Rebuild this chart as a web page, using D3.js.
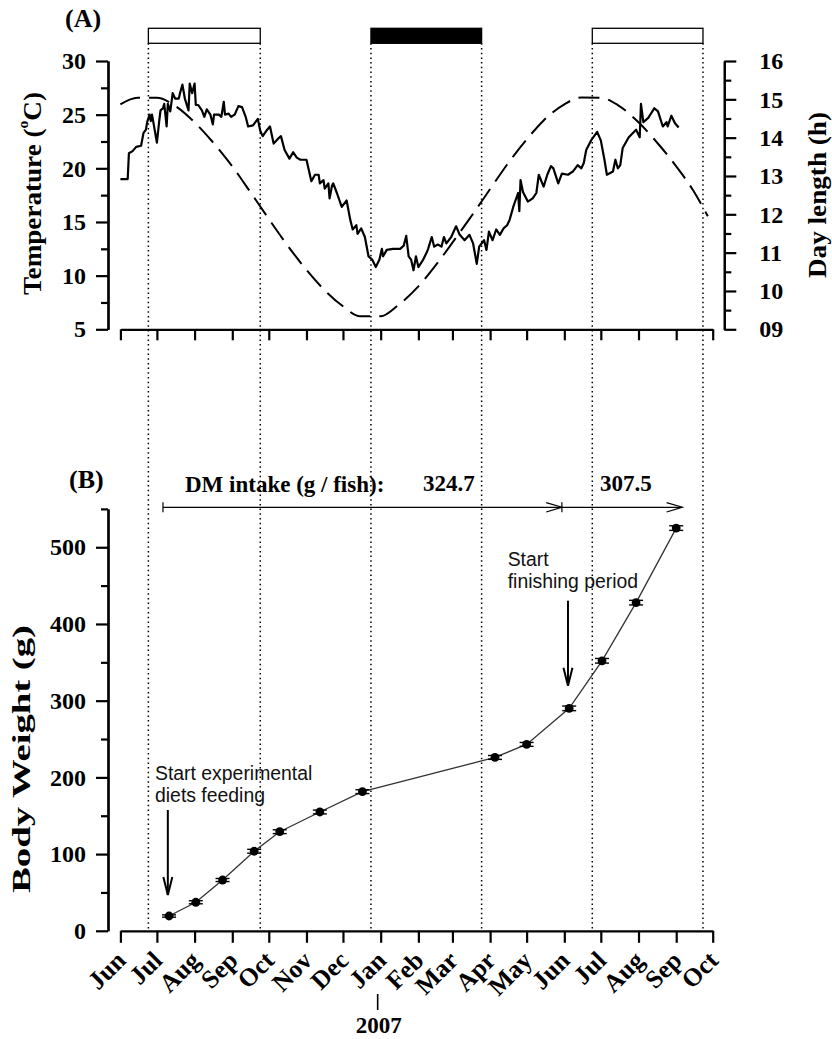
<!DOCTYPE html>
<html><head><meta charset="utf-8">
<script src="https://cdn.jsdelivr.net/npm/d3@7"></script>
<style>body{margin:0;background:#fff}</style>
</head><body>
<svg id="c" width="832" height="1039"></svg>
<script>
// ---------------- DATA ----------------
const tempSeries = [
["2006-06-01",19.0],["2006-06-07",19.0],["2006-06-08",21.4],["2006-06-11",21.6],["2006-06-14",22.0],["2006-06-18",22.1],["2006-06-20",23.3],["2006-06-22",23.6],["2006-06-23",24.3],["2006-06-25",25.0],["2006-06-26",24.4],["2006-06-27",25.0],["2006-07-01",22.4],["2006-07-03",24.5],["2006-07-04",25.4],["2006-07-06",25.6],["2006-07-07",26.0],["2006-07-08",25.0],["2006-07-09",23.9],["2006-07-10",26.0],["2006-07-12",25.3],["2006-07-14",27.0],["2006-07-16",26.5],["2006-07-19",26.5],["2006-07-20",27.0],["2006-07-22",27.8],["2006-07-24",26.5],["2006-07-27",25.4],["2006-07-28",27.9],["2006-07-30",27.0],["2006-08-01",27.9],["2006-08-02",25.9],["2006-08-04",25.9],["2006-08-07",25.4],["2006-08-09",24.8],["2006-08-11",25.5],["2006-08-14",25.0],["2006-08-16",24.1],["2006-08-17",25.0],["2006-08-21",25.0],["2006-08-23",24.8],["2006-08-25",26.2],["2006-08-26",25.0],["2006-08-29",25.1],["2006-08-31",24.8],["2006-09-03",25.0],["2006-09-06",25.8],["2006-09-09",25.7],["2006-09-12",24.8],["2006-09-14",23.9],["2006-09-18",24.0],["2006-09-20",24.3],["2006-09-22",24.6],["2006-09-24",23.5],["2006-09-26",23.0],["2006-09-29",23.5],["2006-10-02",23.9],["2006-10-05",22.3],["2006-10-09",22.8],["2006-10-11",23.0],["2006-10-14",21.7],["2006-10-18",20.9],["2006-10-21",21.5],["2006-10-24",21.0],["2006-10-27",20.8],["2006-11-01",20.8],["2006-11-05",18.8],["2006-11-08",19.4],["2006-11-11",19.4],["2006-11-12",18.6],["2006-11-15",18.9],["2006-11-16",18.1],["2006-11-19",18.6],["2006-11-20",17.2],["2006-11-22",18.4],["2006-11-23",18.6],["2006-11-26",17.7],["2006-11-30",16.4],["2006-12-04",17.0],["2006-12-07",15.2],["2006-12-09",14.3],["2006-12-12",14.7],["2006-12-13",13.9],["2006-12-16",14.4],["2006-12-19",13.6],["2006-12-22",11.8],["2006-12-25",11.5],["2006-12-28",10.8],["2006-12-31",11.5],["2007-01-02",12.5],["2007-01-03",11.8],["2007-01-06",12.4],["2007-01-11",12.5],["2007-01-17",12.5],["2007-01-20",12.8],["2007-01-22",13.7],["2007-01-24",11.8],["2007-01-26",11.5],["2007-01-28",10.5],["2007-01-30",11.8],["2007-02-01",10.8],["2007-02-05",11.5],["2007-02-08",12.2],["2007-02-09",12.5],["2007-02-12",13.6],["2007-02-14",12.7],["2007-02-17",12.9],["2007-02-20",12.7],["2007-02-22",13.6],["2007-02-24",13.0],["2007-02-28",13.6],["2007-03-04",14.6],["2007-03-07",13.8],["2007-03-11",13.3],["2007-03-15",13.8],["2007-03-18",13.0],["2007-03-21",11.1],["2007-03-23",12.7],["2007-03-27",13.3],["2007-03-29",12.4],["2007-03-31",14.1],["2007-04-03",13.3],["2007-04-06",14.3],["2007-04-09",13.8],["2007-04-12",14.4],["2007-04-15",14.7],["2007-04-17",15.2],["2007-04-20",16.4],["2007-04-24",17.7],["2007-04-25",16.0],["2007-04-26",18.9],["2007-04-28",17.8],["2007-05-02",16.9],["2007-05-06",17.2],["2007-05-09",17.7],["2007-05-11",19.4],["2007-05-15",18.3],["2007-05-18",19.4],["2007-05-21",20.2],["2007-05-23",20.0],["2007-05-27",18.6],["2007-05-30",19.5],["2007-06-04",19.4],["2007-06-08",19.7],["2007-06-12",20.3],["2007-06-15",20.0],["2007-06-17",20.5],["2007-06-19",21.7],["2007-06-23",22.6],["2007-06-28",23.4],["2007-07-01",22.6],["2007-07-04",20.8],["2007-07-06",19.4],["2007-07-11",19.7],["2007-07-13",20.8],["2007-07-15",20.0],["2007-07-17",20.3],["2007-07-19",21.9],["2007-07-24",22.9],["2007-07-30",23.6],["2007-08-02",22.9],["2007-08-03",26.0],["2007-08-05",24.3],["2007-08-09",24.7],["2007-08-14",25.6],["2007-08-17",25.3],["2007-08-21",23.9],["2007-08-24",24.3],["2007-08-25",23.9],["2007-08-28",24.9],["2007-08-31",24.2],["2007-09-03",23.8]
];
const dayLenDates = ["2006-06-01","2006-06-15","2006-07-01","2006-07-15","2006-08-01","2006-08-15","2006-09-01","2006-09-15","2006-10-01","2006-10-15","2006-11-01","2006-11-15","2006-12-01","2006-12-15","2007-01-01","2007-01-15","2007-02-01","2007-02-15","2007-03-01","2007-03-15","2007-04-01","2007-04-15","2007-05-01","2007-05-15","2007-06-01","2007-06-15","2007-07-01","2007-07-15","2007-08-01","2007-08-15","2007-09-01","2007-09-15","2007-09-27"];
const dayLenValues = [14.87,15.04,15.04,14.85,14.40,13.92,13.25,12.62,11.88,11.25,10.55,10.05,9.60,9.34,9.34,9.62,10.12,10.66,11.26,11.88,12.66,13.30,13.95,14.45,14.87,15.05,15.04,14.85,14.40,13.92,13.25,12.62,11.95];
const weightDates = ["2006-07-11","2006-08-02","2006-08-24","2006-09-19","2006-10-10","2006-11-12","2006-12-17","2007-04-05","2007-05-01","2007-06-05","2007-07-02","2007-07-30","2007-09-01"];
const weightValues = [19.3,37.2,66.2,103.7,129.2,154.9,181.4,226,243,290,352,427.8,525];
const weightSE = [1.5,2,2,2.5,2.5,2.5,2.5,2.5,2.5,3,3,3,3];
const periodBounds = ["2006-06-24","2006-09-24","2006-12-24","2007-03-25","2007-06-24","2007-09-23"];
const periodFills = ["#fff","#000","#fff"];
const tempTicks = [5,10,15,20,25,30];
const tempMinor = [7.5,12.5,17.5,22.5,27.5];
const dayTicks = [9,10,11,12,13,14,15,16];
const dayMinor = [9.5,10.5,11.5,12.5,13.5,14.5,15.5];
const weightTicks = [0,100,200,300,400,500];
const weightMinor = [50,150,250,350,450,550];
const intakeDates = ["2006-07-06","2007-05-30","2007-09-06"];
const intakeLabels = ["DM intake (g / fish):","324.7","307.5"];
const yearMark = ["2007-01-01","2007"];

// ---------------- CHART ----------------
const svg = d3.select("#c");
const parse = d3.utcParse("%Y-%m-%d");
const SERIF = "'Liberation Serif','Times New Roman',serif";
const SANS = "'Liberation Sans',Arial,Helvetica,sans-serif";

const x = d3.scaleUtc().domain([parse("2006-06-01"), parse("2007-10-01")]).range([120.4, 712.7]);
const yT = d3.scaleLinear().domain([5,30]).range([329.3,61]);
const yD = d3.scaleLinear().domain([9,16]).range([329.3,61]);
const yW = d3.scaleLinear().domain([0,550]).range([930.8,508.9]);

function styleAxis(g, fs){
  g.attr("font-family", SERIF).attr("font-weight","bold").attr("font-size", fs);
  g.selectAll("path,line").attr("stroke","#000").attr("stroke-width",2.2);
  g.selectAll("text").attr("fill","#000");
}

// dotted period lines
svg.append("g").selectAll("line").data(periodBounds).join("line")
  .attr("x1", d=>x(parse(d))).attr("x2", d=>x(parse(d)))
  .attr("y1", 43.3).attr("y2", 930.8)
  .attr("stroke","#000").attr("stroke-width",1.5).attr("stroke-dasharray","1.5,3.2");

// period bars
svg.append("g").selectAll("rect").data(periodFills).join("rect")
  .attr("x",(d,i)=>x(parse(periodBounds[2*i])))
  .attr("width",(d,i)=>x(parse(periodBounds[2*i+1]))-x(parse(periodBounds[2*i])))
  .attr("y",28.3).attr("height",15)
  .attr("fill",d=>d).attr("stroke","#000").attr("stroke-width",1.3);

// ----- Panel A axes
const gTL = svg.append("g").attr("transform","translate(108,0)")
  .call(d3.axisLeft(yT).tickValues(tempTicks).tickSize(12).tickSizeOuter(0).tickPadding(10));
styleAxis(gTL, 24);
const gTLm = svg.append("g").attr("transform","translate(108,0)")
  .call(d3.axisLeft(yT).tickValues(tempMinor).tickSize(7).tickSizeOuter(0).tickFormat(""));
styleAxis(gTLm, 24);
const gTR = svg.append("g").attr("transform","translate(724.3,0)")
  .call(d3.axisRight(yD).tickValues(dayTicks).tickSize(12).tickSizeOuter(0).tickPadding(23).tickFormat(d3.format("02d")));
styleAxis(gTR, 24);
const gTRm = svg.append("g").attr("transform","translate(724.3,0)")
  .call(d3.axisRight(yD).tickValues(dayMinor).tickSize(7).tickSizeOuter(0).tickFormat(""));
styleAxis(gTRm, 24);
const gTX = svg.append("g").attr("transform","translate(0,329.3)")
  .call(d3.axisBottom(x).ticks(d3.utcMonth.every(1)).tickSize(11).tickSizeOuter(0).tickFormat(""));
styleAxis(gTX, 24);

// day length (dashed)
const dayLen = dayLenDates.map((d,i)=>[parse(d), dayLenValues[i]]);
svg.append("path").datum(dayLen)
  .attr("d", d3.line().x(d=>x(d[0])).y(d=>yD(d[1])).curve(d3.curveMonotoneX))
  .attr("fill","none").attr("stroke","#000").attr("stroke-width",2).attr("stroke-dasharray","21,9");

// temperature
svg.append("path").datum(tempSeries)
  .attr("d", d3.line().x(d=>x(parse(d[0]))).y(d=>yT(d[1])))
  .attr("fill","none").attr("stroke","#000").attr("stroke-width",2.2).attr("stroke-linejoin","round");

// labels A
svg.append("text").attr("x",65).attr("y",26.5).text("(A)")
  .attr("font-family",SERIF).attr("font-weight","bold").attr("font-size",26);
const tl = svg.append("text").attr("transform","translate(32,193.5) rotate(-90)")
  .attr("text-anchor","middle").attr("dominant-baseline","central")
  .attr("font-family",SERIF).attr("font-weight","bold").attr("font-size",26)
  .attr("textLength",203).attr("lengthAdjust","spacingAndGlyphs");
tl.append("tspan").text("Temperature (");
tl.append("tspan").text("o").attr("font-size",15).attr("dy",-9);
tl.append("tspan").text("C)").attr("dy",9);
svg.append("text").attr("transform","translate(817,195) rotate(-90)")
  .attr("text-anchor","middle").attr("dominant-baseline","central")
  .attr("font-family",SERIF).attr("font-weight","bold").attr("font-size",25)
  .attr("textLength",166).attr("lengthAdjust","spacingAndGlyphs")
  .text("Day length (h)");

// ----- Panel B axes
const gWL = svg.append("g").attr("transform","translate(108,0)")
  .call(d3.axisLeft(yW).tickValues(weightTicks).tickSize(12).tickSizeOuter(0).tickPadding(10));
styleAxis(gWL, 24);
const gWLm = svg.append("g").attr("transform","translate(108,0)")
  .call(d3.axisLeft(yW).tickValues(weightMinor).tickSize(7).tickSizeOuter(0).tickFormat(""));
styleAxis(gWLm, 24);
const gWX = svg.append("g").attr("transform","translate(0,930.8)")
  .call(d3.axisBottom(x).ticks(d3.utcMonth.every(1)).tickSize(12).tickSizeOuter(0).tickFormat(""));
styleAxis(gWX, 24);

// month labels
const fmtMon = d3.utcFormat("%b");
svg.append("g").selectAll("text").data(x.ticks(d3.utcMonth.every(1))).join("text")
  .attr("transform", d=>`translate(${x(d)+7},962) rotate(-45)`)
  .attr("text-anchor","end")
  .attr("font-family",SERIF).attr("font-weight","bold").attr("font-size",25.5)
  .text(d=>fmtMon(d));

// year marker
const yx = x(parse(yearMark[0])) - 3;
svg.append("line").attr("x1",yx).attr("x2",yx).attr("y1",994).attr("y2",1010)
  .attr("stroke","#000").attr("stroke-width",1.6);
svg.append("text").attr("x",yx+1).attr("y",1033).attr("text-anchor","middle")
  .attr("font-family",SERIF).attr("font-weight","bold").attr("font-size",23).text(yearMark[1]);

// weight line
const weights = weightDates.map((d,i)=>({t:parse(d), v:weightValues[i], se:weightSE[i]}));
svg.append("path").datum(weights)
  .attr("d", d3.line().x(d=>x(d.t)).y(d=>yW(d.v)))
  .attr("fill","none").attr("stroke","#333").attr("stroke-width",1.3);
const eb = svg.append("g").selectAll("g").data(weights).join("g");
eb.append("line").attr("x1",d=>x(d.t)).attr("x2",d=>x(d.t))
  .attr("y1",d=>yW(d.v-d.se)).attr("y2",d=>yW(d.v+d.se)).attr("stroke","#000").attr("stroke-width",1.2);
eb.append("line").attr("x1",d=>x(d.t)-7).attr("x2",d=>x(d.t)+7)
  .attr("y1",d=>yW(d.v+d.se)).attr("y2",d=>yW(d.v+d.se)).attr("stroke","#000").attr("stroke-width",1.4);
eb.append("line").attr("x1",d=>x(d.t)-7).attr("x2",d=>x(d.t)+7)
  .attr("y1",d=>yW(d.v-d.se)).attr("y2",d=>yW(d.v-d.se)).attr("stroke","#000").attr("stroke-width",1.4);
eb.append("circle").attr("cx",d=>x(d.t)).attr("cy",d=>yW(d.v)).attr("r",4.4).attr("fill","#000");

// DM intake arrows
const iy = 507.3;
const ix = intakeDates.map(d=>x(parse(d)));
const ig = svg.append("g").attr("stroke","#000").attr("stroke-width",1.2).attr("fill","none");
ig.append("line").attr("x1",ix[0]).attr("x2",ix[1]).attr("y1",iy).attr("y2",iy);
ig.append("line").attr("x1",ix[1]).attr("x2",ix[2]).attr("y1",iy).attr("y2",iy);
[ix[0], ix[1]].forEach(px=>ig.append("line").attr("x1",px).attr("x2",px).attr("y1",iy-5).attr("y2",iy+5));
[ix[1], ix[2]].forEach(px=>ig.append("path").attr("d",`M${px-15.7},${iy-4.7}L${px},${iy}L${px-15.7},${iy+4.7}`));
svg.append("text").attr("x",185).attr("y",491.5).text(intakeLabels[0])
  .attr("font-family",SERIF).attr("font-weight","bold").attr("font-size",23);
svg.append("text").attr("x",423).attr("y",491).text(intakeLabels[1])
  .attr("font-family",SERIF).attr("font-weight","bold").attr("font-size",23);
svg.append("text").attr("x",600).attr("y",491).text(intakeLabels[2])
  .attr("font-family",SERIF).attr("font-weight","bold").attr("font-size",23);

// labels B
svg.append("text").attr("x",69).attr("y",488).text("(B)")
  .attr("font-family",SERIF).attr("font-weight","bold").attr("font-size",26);
svg.append("text").attr("transform","translate(21,759) rotate(-90)")
  .attr("text-anchor","middle").attr("dominant-baseline","central")
  .attr("font-family",SERIF).attr("font-weight","bold").attr("font-size",26)
  .attr("textLength",268).attr("lengthAdjust","spacingAndGlyphs")
  .text("Body Weight (g)");

// annotation arrows
function vArrow(px, y1, y2){
  const g = svg.append("g").attr("stroke","#000").attr("stroke-width",2).attr("fill","none");
  g.append("line").attr("x1",px).attr("x2",px).attr("y1",y1).attr("y2",y2);
  g.append("path").attr("d",`M${px-4.5},${y2-18}L${px},${y2}L${px+4.5},${y2-18}`);
}
vArrow(x(parse("2006-07-10")), 810, 895);
vArrow(x(parse("2007-06-04")), 600.7, 685.7);
function annot(tx, ty, lines){
  const t = svg.append("text").attr("font-family",SANS).attr("font-size",19.4).attr("fill","#111");
  lines.forEach((s,i)=>t.append("tspan").attr("x",tx).attr("y",ty+i*21.7).text(s));
}
annot(155, 780, ["Start experimental","diets feeding"]);
annot(507.7, 566, ["Start","finishing period"]);
</script>
</body></html>
